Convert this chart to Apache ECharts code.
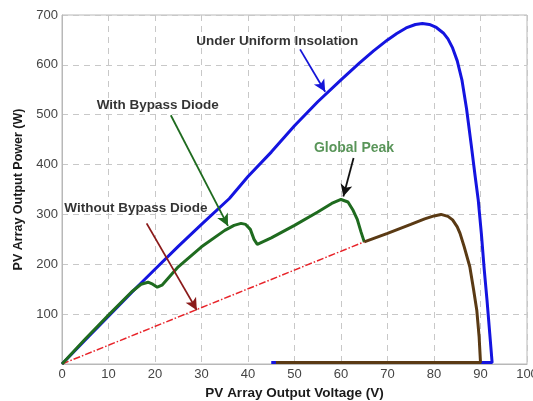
<!DOCTYPE html>
<html>
<head>
<meta charset="utf-8">
<script src="https://cdn.jsdelivr.net/npm/echarts@6/dist/echarts.min.js"></script>
<style>
html,body{margin:0;padding:0;background:#fff;}
#c{width:533px;height:401px;}
</style>
</head>
<body>
<div id="c"></div>
<script>
// Under uniform insolation (blue)
const uniformV = [0, 5, 10, 16.3, 20, 25, 30, 36, 40, 45, 50, 55, 60, 64, 67, 70, 72, 74, 76, 77.5, 79, 80.5, 82, 83, 84, 85, 86, 87, 88, 88.8, 89.5, 90.2, 90.8, 91.4, 92, 92.5, 45];
const uniformP = [0, 48, 96, 156, 190, 236, 280, 332, 376, 425, 478, 526, 570, 604, 628, 650, 663, 674, 681, 683, 681, 675, 664, 652, 634, 608, 570, 512, 440, 380, 330, 260, 190, 128, 60, 3, 3];
// With bypass diode (green), up to where it joins the other curve
const bypassV = [0, 5, 10, 15, 17, 18.5, 19.5, 20.5, 21.5, 25, 30, 35, 37, 38.5, 39.5, 40.5, 41.3, 42, 45, 50, 55, 58, 60, 61.5, 62.5, 63.5, 64.3, 65];
const bypassP = [0, 50, 98, 145, 160, 164, 160, 154, 158, 195, 235, 268, 278, 282, 280, 270, 250, 240, 253, 278, 305, 322, 330, 325, 310, 290, 265, 245];
// Without bypass diode (red dash-dot)
const withoutV = [0, 65];
const withoutP = [0, 245];
// Common part of both shaded curves (brown)
const sharedV = [65, 70, 75, 78, 80, 81.5, 83, 84, 85, 85.6, 86.5, 87.7, 88.5, 89.2, 89.7, 90, 46];
const sharedP = [245, 262, 280, 291, 297, 300, 296, 289, 275, 262, 235, 195, 150, 108, 55, 3, 3];
// Tick labels
const xTicks = [0, 10, 20, 30, 40, 50, 60, 70, 80, 90, 100];
const yTicks = [100, 200, 300, 400, 500, 600, 700];
// Annotations (data coordinates)
const annoText = ['Under Uniform Insolation', 'With Bypass Diode', 'Without Bypass Diode', 'Global Peak'];
const annoV = [46.3, 20.6, 15.9, 62.8];
const annoP = [648, 519, 313, 433];
const arrowFromV = [51.2, 23.4, 18.2, 62.7];
const arrowFromP = [631, 499, 282, 413];
const arrowToV = [56.6, 35.7, 29.0, 60.5];
const arrowToP = [546, 277, 108, 336];

const zip = (a, b) => a.map((v, i) => [v, b[i]]);
const annoColors = ['#000', '#000', '#000', '#2f7a2f'];
const annoSizes = [13.5, 13.5, 13.5, 14];
const arrowColors = ['#1414d8', '#1f6b1f', '#8b1a1a', '#111'];
const FONT = 'Liberation Sans, Arial, sans-serif';

const chart = echarts.init(document.getElementById('c'), null, {renderer: 'canvas'});
chart.setOption({
  animation: false,
  backgroundColor: '#fff',
  grid: {left: 62, right: 6, top: 15, bottom: 37, containLabel: false, outerBoundsMode: 'none',
    show: true, borderColor: '#b8b8b8', borderWidth: 1},
  textStyle: {fontFamily: FONT},
  xAxis: {
    type: 'value', min: xTicks[0], max: xTicks[xTicks.length - 1], interval: 10,
    name: 'PV Array Output Voltage (V)', nameLocation: 'middle', nameGap: 11,
    nameTextStyle: {fontWeight: 'bold', fontSize: 13.5, color: '#1a1a1a', fontFamily: FONT},
    axisLine: {show: true, lineStyle: {color: '#b8b8b8'}},
    axisTick: {show: false},
    axisLabel: {color: '#444', fontSize: 13, margin: 4, fontFamily: FONT, formatter: v => xTicks.includes(v) ? String(v) : ''},
    splitLine: {show: true, lineStyle: {color: '#c8c8c8', type: [6, 5], width: 1}}
  },
  yAxis: {
    type: 'value', min: 0, max: 700, interval: 100,
    name: 'PV Array Output Power (W)', nameLocation: 'middle', nameGap: 37,
    nameTextStyle: {fontWeight: 'bold', fontSize: 12.5, color: '#1a1a1a', fontFamily: FONT},
    axisLine: {show: true, lineStyle: {color: '#b8b8b8'}},
    axisTick: {show: false},
    axisLabel: {color: '#444', fontSize: 13, margin: 4, fontFamily: FONT, formatter: v => yTicks.includes(v) ? String(v) : ''},
    splitLine: {show: true, lineStyle: {color: '#c8c8c8', type: [6, 5], width: 1}}
  },
  series: [
    {type: 'line', name: 'uniform', data: zip(uniformV, uniformP), showSymbol: false, z: 2,
      lineStyle: {color: '#1414e0', width: 3}},
    {type: 'line', name: 'without', data: zip(withoutV, withoutP), showSymbol: false, z: 3,
      lineStyle: {color: '#e8242a', width: 1.5, type: [7, 2, 1.5, 2]}},
    {type: 'line', name: 'bypass', data: zip(bypassV, bypassP), showSymbol: false, z: 4,
      lineStyle: {color: '#1f6b1f', width: 3}},
    {type: 'line', name: 'shared', data: zip(sharedV, sharedP), showSymbol: false, z: 5,
      lineStyle: {color: '#5a3a14', width: 3}},
    {type: 'scatter', name: 'annotations', symbolSize: 0, z: 10,
      data: annoText.map((t, i) => ({value: [annoV[i], annoP[i], t],
        label: {color: annoColors[i], fontSize: annoSizes[i]}})),
      label: {show: true, position: 'inside', formatter: p => p.value[2],
        fontWeight: 'bold', fontFamily: FONT},
      markLine: {
        silent: true, symbol: ['none', 'arrow'], symbolSize: [9, 12],
        label: {show: false},
        data: arrowFromV.map((v, i) => [
          {coord: [v, arrowFromP[i]], lineStyle: {color: arrowColors[i], width: 1.8, type: 'solid'}},
          {coord: [arrowToV[i], arrowToP[i]]}
        ])
      }
    }
  ]
});
</script>
</body>
</html>
